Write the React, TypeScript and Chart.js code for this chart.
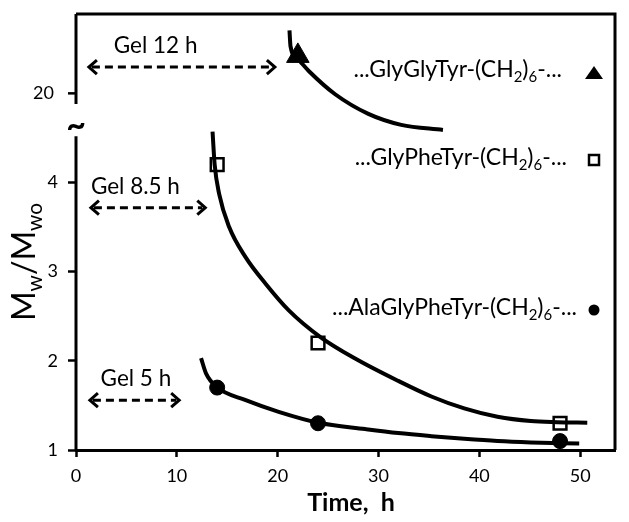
import React, { useEffect, useRef } from 'react';
import { Chart, registerables } from 'chart.js';

Chart.register(...registerables);

// ---------- data ----------
const xTicks = [0, 10, 20, 30, 40, 50];
const yLowerTicks = [1, 2, 3, 4];
const yUpperTicks = [20];

// measured points (time, h)
const measuredTimes = [14, 24, 48];
const glyPheTyrValues = [4.2, 2.2, 1.3];
const alaGlyPheTyrValues = [1.7, 1.3, 1.1];
const glyGlyTyrTimes = [22];
const glyGlyTyrValues = [24.2];

// fitted curves
const fitGlyGlyTyrTimes = [21.17, 21.27, 21.9, 23.08, 25.7, 28.99, 32.25, 36.39];
const fitGlyGlyTyrValues = [27.06, 25.3, 23.96, 22.51, 19.9, 17.7, 16.47, 15.9];

const fitGlyPheTyrTimes = [13.54, 13.75, 14.2, 15.19, 16.83, 18.8, 21.1, 24.2, 27.68, 31.95, 35.24, 38.5, 41.8, 45.1, 47.7, 50.7];
const fitGlyPheTyrValues = [4.57, 4.2, 3.87, 3.5, 3.16, 2.865, 2.566, 2.27, 2.026, 1.775, 1.6, 1.466, 1.372, 1.324, 1.312, 1.306];

const fitAlaTimes = [12.4, 12.89, 14.03, 16.83, 20.1, 24.06, 28.67, 31.95, 35.24, 38.5, 41.8, 45.1, 49.9];
const fitAlaValues = [2.03, 1.86, 1.7, 1.559, 1.428, 1.305, 1.235, 1.19, 1.155, 1.125, 1.1, 1.085, 1.072];

// gel-time annotations
const gelLabels = ['Gel 12 h', 'Gel 8.5 h', 'Gel 5 h'];
const gelArrowStart = [1.18, 1.38, 1.28];
const gelArrowEnd = [19.82, 12.92, 10.33];
const gelArrowY = [22.95, 3.718, 1.559];
const gelLabelStart = [3.75, 1.48, 2.44];
const gelAxis = ['yU', 'yL', 'yL'];

// axis break (lower axis top, upper axis bottom)
const lowerBreak = 4.52;
const upperBreak = 18.8;

const FONT = 'Lato, "Open Sans", sans-serif';

const pts = (xs: number[], ys: number[]) => xs.map((x, i) => ({ x, y: ys[i] }));

type Part = { t: string; sub?: boolean };

function richWidth(ctx: CanvasRenderingContext2D, parts: Part[], size: number, weight: string) {
  let w = 0;
  for (const p of parts) {
    ctx.font = `${weight} ${p.sub ? size * 0.65 : size}px ${FONT}`;
    w += ctx.measureText(p.t).width;
  }
  return w;
}

function drawRich(ctx: CanvasRenderingContext2D, parts: Part[], x: number, y: number, size: number, align: 'left' | 'center' | 'right' = 'left', weight = 'normal') {
  const total = richWidth(ctx, parts, size, weight);
  let cx = align === 'center' ? x - total / 2 : align === 'right' ? x - total : x;
  ctx.textAlign = 'left';
  ctx.textBaseline = 'alphabetic';
  for (const p of parts) {
    ctx.font = `${weight} ${p.sub ? size * 0.65 : size}px ${FONT}`;
    ctx.fillText(p.t, cx, p.sub ? y + size * 0.22 : y);
    cx += ctx.measureText(p.t).width;
  }
}

function dashedArrow(ctx: CanvasRenderingContext2D, x1: number, x2: number, y: number) {
  ctx.save();
  ctx.strokeStyle = '#000';
  ctx.lineWidth = 3;
  ctx.setLineDash([8, 5]);
  ctx.beginPath();
  ctx.moveTo(x1 + 4, y);
  ctx.lineTo(x2 - 4, y);
  ctx.stroke();
  ctx.setLineDash([]);
  ctx.lineJoin = 'miter';
  ctx.beginPath();
  ctx.moveTo(x1 + 9, y - 7);
  ctx.lineTo(x1 + 1, y);
  ctx.lineTo(x1 + 9, y + 7);
  ctx.moveTo(x2 - 9, y - 7);
  ctx.lineTo(x2 - 1, y);
  ctx.lineTo(x2 - 9, y + 7);
  ctx.stroke();
  ctx.restore();
}

const decor = {
  id: 'decor',
  afterDraw(chart: any) {
    const { ctx, chartArea: a, scales } = chart;
    const x = scales.x, yL = scales.yL, yU = scales.yU;
    ctx.save();
    ctx.strokeStyle = '#000';
    ctx.fillStyle = '#000';
    ctx.lineWidth = 3;
    ctx.lineCap = 'butt';
    // frame top + right
    ctx.beginPath();
    ctx.moveTo(a.left, a.top);
    ctx.lineTo(a.right, a.top);
    ctx.lineTo(a.right, a.bottom);
    ctx.stroke();
    // broken left axis
    ctx.beginPath();
    ctx.moveTo(a.left, a.top);
    ctx.lineTo(a.left, yU.getPixelForValue(upperBreak));
    ctx.moveTo(a.left, a.bottom);
    ctx.lineTo(a.left, yL.getPixelForValue(lowerBreak));
    ctx.stroke();
    // upper tick(s)
    ctx.lineWidth = 2.5;
    for (const v of yUpperTicks) {
      const py = yU.getPixelForValue(v);
      ctx.beginPath();
      ctx.moveTo(a.left - 8, py);
      ctx.lineTo(a.left, py);
      ctx.stroke();
      ctx.font = `18px ${FONT}`;
      ctx.textAlign = 'right';
      ctx.textBaseline = 'middle';
      ctx.fillText(String(v), a.left - 22, py);
    }
    // break mark
    const gapTop = yU.getPixelForValue(upperBreak);
    const gapBot = yL.getPixelForValue(lowerBreak);
    ctx.font = `bold 34px ${FONT}`;
    ctx.textAlign = 'center';
    ctx.textBaseline = 'middle';
    ctx.fillText('~', a.left, (gapTop + gapBot) / 2 + 6);

    // gel annotations
    gelLabels.forEach((lab, i) => {
      const sc = gelAxis[i] === 'yU' ? yU : yL;
      const py = sc.getPixelForValue(gelArrowY[i]);
      const px1 = x.getPixelForValue(gelArrowStart[i]);
      const px2 = x.getPixelForValue(gelArrowEnd[i]);
      dashedArrow(ctx, px1, px2, py);
      ctx.fillStyle = '#000';
      ctx.font = `22.5px ${FONT}`;
      ctx.textAlign = 'left';
      ctx.textBaseline = 'alphabetic';
      ctx.fillText(lab, x.getPixelForValue(gelLabelStart[i]), py - 14);
    });

    // legend labels
    const leg: { parts: Part[]; x: number; y: number; mk: string; my: number }[] = [
      { parts: [{ t: '...GlyGlyTyr-(CH' }, { t: '2', sub: true }, { t: ')' }, { t: '6', sub: true }, { t: '-...' }], x: 562, y: 77, mk: 'tri', my: 74 },
      { parts: [{ t: '...GlyPheTyr-(CH' }, { t: '2', sub: true }, { t: ')' }, { t: '6', sub: true }, { t: '-...' }], x: 567, y: 165, mk: 'sq', my: 160 },
      { parts: [{ t: '...AlaGlyPheTyr-(CH' }, { t: '2', sub: true }, { t: ')' }, { t: '6', sub: true }, { t: '-...' }], x: 577, y: 315, mk: 'ci', my: 310 },
    ];
    for (const l of leg) {
      ctx.fillStyle = '#000';
      drawRich(ctx, l.parts, l.x, l.y, 23, 'right');
      const mx = 594;
      if (l.mk === 'tri') {
        ctx.beginPath();
        ctx.moveTo(mx, l.my - 8);
        ctx.lineTo(mx + 9, l.my + 5);
        ctx.lineTo(mx - 9, l.my + 5);
        ctx.closePath();
        ctx.fill();
      } else if (l.mk === 'sq') {
        ctx.lineWidth = 2.5;
        ctx.strokeRect(mx - 5, l.my - 5, 10, 10);
      } else {
        ctx.beginPath();
        ctx.arc(mx, l.my, 5.5, 0, Math.PI * 2);
        ctx.fill();
      }
    }

    // axis titles
    ctx.fillStyle = '#000';
    ctx.font = `bold 25px ${FONT}`;
    ctx.textAlign = 'center';
    ctx.textBaseline = 'alphabetic';
    ctx.fillText('Time,  h', 351, 511);

    ctx.save();
    ctx.translate(35, 262);
    ctx.rotate(-Math.PI / 2);
    drawRich(ctx, [{ t: 'M' }, { t: 'w', sub: true }, { t: '/M' }, { t: 'wo', sub: true }], 0, 0, 32, 'center');
    ctx.restore();

    ctx.restore();
  },
};

export default function App() {
  const ref = useRef<HTMLCanvasElement>(null);
  useEffect(() => {
    document.body.style.margin = '0';
    const canvas = ref.current!;
    const curve = (data: any[], axis: string) => ({
      data,
      yAxisID: axis,
      showLine: true,
      borderColor: '#000',
      borderWidth: 4,
      pointRadius: 0,
      cubicInterpolationMode: 'monotone' as const,
      fill: false,
    });
    const noPad = (s: any) => {
      s.paddingTop = 0;
      s.paddingBottom = 0;
      s.paddingLeft = 0;
      s.paddingRight = 0;
    };
    const chart = new Chart(canvas, {
      type: 'scatter',
      data: {
        datasets: [
          {
            label: '...GlyGlyTyr-(CH2)6-...',
            data: pts(glyGlyTyrTimes, glyGlyTyrValues),
            yAxisID: 'yU',
            pointStyle: 'triangle',
            pointRadius: 13,
            backgroundColor: '#000',
            borderColor: '#000',
            borderWidth: 1,
          },
          {
            label: '...GlyPheTyr-(CH2)6-...',
            data: pts(measuredTimes, glyPheTyrValues),
            yAxisID: 'yL',
            pointStyle: 'rect',
            pointRadius: 9,
            backgroundColor: 'rgba(0,0,0,0)',
            borderColor: '#000',
            borderWidth: 2.5,
          },
          {
            label: '...AlaGlyPheTyr-(CH2)6-...',
            data: pts(measuredTimes, alaGlyPheTyrValues),
            yAxisID: 'yL',
            pointStyle: 'circle',
            pointRadius: 7.5,
            backgroundColor: '#000',
            borderColor: '#000',
            borderWidth: 1,
          },
          curve(pts(fitGlyGlyTyrTimes, fitGlyGlyTyrValues), 'yU'),
          curve(pts(fitGlyPheTyrTimes, fitGlyPheTyrValues), 'yL'),
          curve(pts(fitAlaTimes, fitAlaValues), 'yL'),
        ],
      },
      options: {
        responsive: false,
        animation: false,
        devicePixelRatio: 1,
        layout: { padding: { top: 13, right: 11, left: 0, bottom: 0 } },
        plugins: { legend: { display: false }, tooltip: { enabled: false } },
        scales: {
          x: {
            type: 'linear',
            min: 0,
            max: 53.45,
            afterBuildTicks: (s: any) => { s.ticks = xTicks.map((v) => ({ value: v })); },
            afterFit: (s: any) => { s.height = 72; noPad(s); },
            grid: { drawOnChartArea: false, drawTicks: true, tickLength: 7, tickWidth: 2.5, tickColor: '#000' },
            border: { display: true, color: '#000', width: 3 },
            ticks: { color: '#000', font: { family: FONT, size: 18 }, padding: 8 },
          },
          yL: {
            type: 'linear',
            position: 'left',
            min: 1,
            max: 5.89,
            afterBuildTicks: (s: any) => { s.ticks = yLowerTicks.map((v) => ({ value: v })); },
            afterFit: (s: any) => { s.width = 76; noPad(s); },
            grid: { drawOnChartArea: false, drawTicks: true, tickLength: 8, tickWidth: 2.5, tickColor: '#000' },
            border: { display: false },
            ticks: { color: '#000', font: { family: FONT, size: 18 }, padding: 10 },
          },
          yU: {
            type: 'linear',
            position: 'left',
            display: false,
            min: -20,
            max: 28.9,
            afterFit: (s: any) => { noPad(s); },
          },
        },
      },
      plugins: [decor],
    } as any);
    return () => chart.destroy();
  }, []);
  return (
    <div style={{ width: 629, height: 522 }}>
      <canvas ref={ref} width={629} height={522} style={{ display: 'block' }} />
    </div>
  );
}
